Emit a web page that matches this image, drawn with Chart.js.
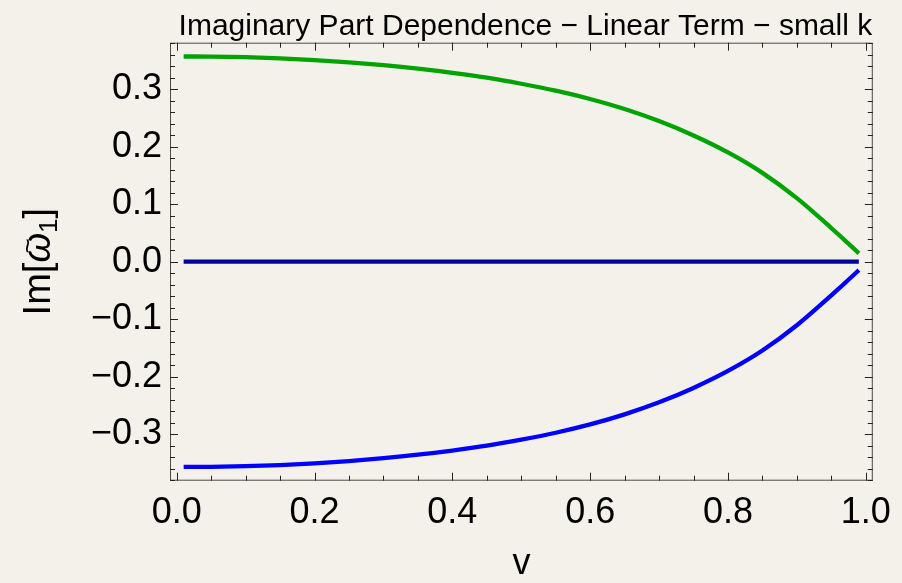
<!DOCTYPE html>
<html>
<head>
<meta charset="utf-8">
<script src="https://cdn.jsdelivr.net/npm/chart.js@4.4.0/dist/chart.umd.min.js"></script>
<style>
  body { margin: 0; background: #f4f1ea; }
  canvas { display: block; }
</style>
</head>
<body>
<canvas id="chart" width="902" height="583"></canvas>
<script>
// values
const vValues     = [0.01, 0.05, 0.1, 0.15, 0.2, 0.25, 0.3, 0.35, 0.4, 0.45, 0.5, 0.55, 0.6, 0.65, 0.7, 0.75, 0.8, 0.85, 0.9, 0.95, 0.96, 0.97, 0.98, 0.99]
const upperBranch = [0.3570, 0.3568, 0.3558, 0.3538, 0.3508, 0.3468, 0.3418, 0.3358, 0.3286, 0.3201, 0.3096, 0.2976, 0.2831, 0.2656, 0.2446, 0.2196, 0.1901, 0.1546, 0.1106, 0.0586, 0.0478, 0.0368, 0.0258, 0.0146]
const lowerBranch = [-0.3570, -0.3568, -0.3558, -0.3538, -0.3508, -0.3468, -0.3418, -0.3358, -0.3286, -0.3201, -0.3096, -0.2976, -0.2831, -0.2656, -0.2446, -0.2196, -0.1901, -0.1546, -0.1106, -0.0586, -0.0478, -0.0368, -0.0258, -0.0146]
const zeroBranch  = [0, 0, 0, 0, 0, 0, 0, 0, 0, 0, 0, 0, 0, 0, 0, 0, 0, 0, 0, 0, 0, 0, 0, 0]

const xTickValues = [0, 0.2, 0.4, 0.6, 0.8, 1.0]
const yTickValues = [-0.3, -0.2, -0.1, 0, 0.1, 0.2, 0.3]
const titleText = 'Imaginary Part Dependence \u2212 Linear Term \u2212 small k'
const xTitle = 'v'

// minor ticks of the frame
const xMinorTicks = []
for (let i = 1; i < 20; i++) if (i % 4) xMinorTicks.push(i * 0.05)
const yMinorTicks = []
for (let i = -19; i <= 19; i++) if (i % 5) yMinorTicks.push(i * 0.02)

const FONT = '"Liberation Sans", Arial, sans-serif'

const toPoints = ys => vValues.map((v, i) => ({x: v, y: ys[i]}))

const framePlugin = {
    id: 'frame',
    afterDatasetsDraw(chart) {
        const {ctx, chartArea: a, scales: {x, y}} = chart
        ctx.save()
        ctx.strokeStyle = '#4a4a4a'
        ctx.lineWidth = 1
        ctx.strokeRect(a.left + 0.5, a.top + 0.5, a.right - a.left - 1, a.bottom - a.top - 1)
        ctx.strokeStyle = '#222'
        ctx.beginPath()
        const xt = (val, len) => {
            const px = Math.round(x.getPixelForValue(val)) + 0.5
            ctx.moveTo(px, a.bottom); ctx.lineTo(px, a.bottom - len)
            ctx.moveTo(px, a.top); ctx.lineTo(px, a.top + len)
        }
        const yt = (val, len) => {
            const py = Math.round(y.getPixelForValue(val)) + 0.5
            ctx.moveTo(a.left, py); ctx.lineTo(a.left + len, py)
            ctx.moveTo(a.right, py); ctx.lineTo(a.right - len, py)
        }
        xTickValues.forEach(v => xt(v, 8))
        xMinorTicks.forEach(v => xt(v, 5))
        yTickValues.forEach(v => yt(v, 8))
        yMinorTicks.forEach(v => yt(v, 5))
        ctx.stroke()
        ctx.restore()
    },
    afterDraw(chart) {
        const {ctx, chartArea: a} = chart
        ctx.save()
        ctx.fillStyle = '#000'
        ctx.font = '30px ' + FONT
        ctx.textAlign = 'center'
        ctx.textBaseline = 'alphabetic'
        ctx.fillText(titleText, (a.left + a.right) / 2 + 4, 35)

        // y axis label Im[ω̃₁], rotated, written in pieces
        const cy = (a.top + a.bottom) / 2
        ctx.translate(50, cy)
        ctx.rotate(-Math.PI / 2)
        ctx.textAlign = 'left'
        const big = '38px ' + FONT
        const ital = 'italic 38px ' + FONT
        const sub = '26px ' + FONT
        const parts = [['Im[', big, 0], ['\u03c9', ital, 0], ['1', sub, 7], [']', big, 0]]
        let total = 0
        parts.forEach(p => { ctx.font = p[1]; total += ctx.measureText(p[0]).width })
        let x0 = -total / 2
        parts.forEach(p => {
            ctx.font = p[1]
            const w = ctx.measureText(p[0]).width
            ctx.fillText(p[0], x0, p[2])
            if (p[0] === '\u03c9') {
                ctx.font = '26px ' + FONT
                ctx.textAlign = 'center'
                ctx.fillText('~', x0 + w / 2 + 2, -14)
                ctx.textAlign = 'left'
            }
            x0 += w
        })
        ctx.restore()
    }
}

const fmt = v => {
    const r = Math.round(v * 10) / 10
    return (r < 0 ? '\u2212' : '') + Math.abs(r).toFixed(1)
}

new Chart(document.getElementById('chart'), {
    type: 'line',
    data: {
        datasets: [
            {data: toPoints(upperBranch), borderColor: '#00a300', borderWidth: 4.3},
            {data: toPoints(zeroBranch), borderColor: '#0000a0', borderWidth: 4.3},
            {data: toPoints(lowerBranch), borderColor: '#0000ff', borderWidth: 4.3}
        ]
    },
    options: {
        responsive: false,
        animation: false,
        layout: {padding: {top: 42.7, right: 22, bottom: 0, left: 0}},
        elements: {
            point: {radius: 0},
            line: {cubicInterpolationMode: 'monotone', borderCapStyle: 'butt'}
        },
        plugins: {legend: {display: false}, tooltip: {enabled: false}, title: {display: false}},
        scales: {
            x: {
                type: 'linear',
                min: -0.0098,
                max: 1.0102,
                afterBuildTicks: s => { s.ticks = xTickValues.map(v => ({value: v})) },
                afterFit: s => { s.height = 102.3 },
                grid: {display: false, drawTicks: false},
                border: {display: false},
                ticks: {
                    autoSkip: false, maxRotation: 0, padding: 11, color: '#000',
                    font: {size: 36, family: FONT},
                    callback: v => fmt(v)
                },
                title: {display: true, text: xTitle, color: '#000', padding: {top: 0, bottom: -3}, font: {size: 36, family: FONT}}
            },
            y: {
                type: 'linear',
                min: -0.381,
                max: 0.381,
                afterBuildTicks: s => { s.ticks = yTickValues.map(v => ({value: v})) },
                afterFit: s => { s.width = 170 },
                grid: {display: false, drawTicks: false},
                border: {display: false},
                ticks: {
                    autoSkip: false, padding: 8, color: '#000',
                    font: {size: 36, family: FONT},
                    callback: v => fmt(v)
                },
                title: {display: false}
            }
        }
    },
    plugins: [framePlugin]
})
</script>
</body>
</html>
